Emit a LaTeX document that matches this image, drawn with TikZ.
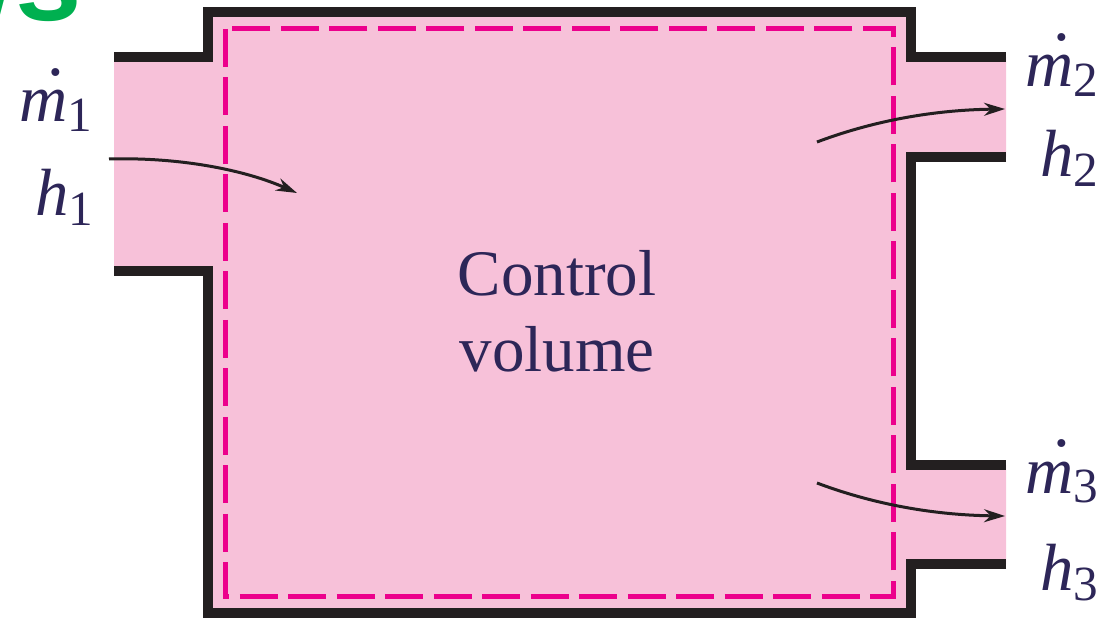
\documentclass[tikz,border=0pt]{standalone}
\usepackage{fontspec}
\setmainfont{Liberation Serif}
\newfontfamily\headfont{Liberation Sans}
\usetikzlibrary{arrows.meta}
\definecolor{cvpink}{RGB}{247,193,217}
\definecolor{cvmagenta}{RGB}{236,0,140}
\definecolor{cvblack}{RGB}{35,31,32}
\definecolor{cvtext}{RGB}{45,38,88}
\definecolor{cvgreen}{RGB}{0,176,80}
\newcommand{\flowsub}[1]{\raisebox{-0.2cm}{\fontsize{28}{28}\selectfont\upshape #1}}
\newcommand{\mdot}{\makebox[0pt][l]{\hspace{0.42em}\raisebox{0.7em}{\upshape .}}m}
\tikzset{
  >={Stealth[length=0.42cm, width=0.26cm]},
  cv fill/.style={fill=cvpink, draw=none},
  cv wall/.style={draw=cvblack, line width=0.2cm, line join=miter},
  cv dash/.style={draw=cvmagenta, line width=0.1cm, dash pattern=on 0.76cm off 0.21cm},
  cv flow/.style={draw=cvblack, ->, line width=0.06cm},
  cv lbl/.style={text=cvtext, inner sep=0pt, anchor=base west,
    font=\fontsize{38}{38}\selectfont\itshape},
  cv title/.style={text=cvtext, inner sep=0pt, align=center,
    font=\fontsize{37}{43}\selectfont},
}

\begin{document}
\begin{tikzpicture}[x=0.02cm, y=-0.02cm]
 \useasboundingbox (0,0) rectangle (1116,618);
 % heading fragment, cut by the page edge
 \node[text=cvgreen, inner sep=0pt, anchor=base east,
   font=\headfont\bfseries\fontsize{68}{68}\selectfont] (head) at (82,21) {ws};
 % control volume with inlet and two outlets
 \path[cv fill] (114,57) -- (208,57) -- (208,12) -- (911,12) -- (911,57) -- (1006,57)
   -- (1006,157) -- (911,157) -- (911,465) -- (1006,465) -- (1006,564) -- (911,564)
   -- (911,613) -- (208,613) -- (208,271) -- (114,271) -- cycle;
 \draw[cv wall] (114,57) -- (208,57) -- (208,12) -- (911,12) -- (911,57) -- (1006,57);
 \draw[cv wall] (1006,157) -- (911,157) -- (911,465) -- (1006,465);
 \draw[cv wall] (1006,564) -- (911,564) -- (911,613) -- (208,613) -- (208,271) -- (114,271);
 \draw[cv dash] (225,29) rectangle (893,596);
 \node[cv title] (cv) at (557,311) {Control\\volume};
 % flow labels
 \node[cv lbl] (m1) at (19,122) {\mdot\flowsub{1}};
 \node[cv lbl] (h1) at (35,216) {h\flowsub{1}};
 \node[cv lbl] (m2) at (1025,87) {\mdot\flowsub{2}};
 \node[cv lbl] (h2) at (1040,177) {h\flowsub{2}};
 \node[cv lbl] (m3) at (1025,493) {\mdot\flowsub{3}};
 \node[cv lbl] (h3) at (1040,590) {h\flowsub{3}};
 % flow arrows
 \coordinate (in1s) at (109,159);
 \coordinate (in1e) at (297,193);
 \coordinate (out2s) at (817,142);
 \coordinate (out2e) at (1005,109);
 \coordinate (out3s) at (817,483);
 \coordinate (out3e) at (1005,516);
 \draw[cv flow] (in1s) .. controls (180,157) and (245,170) .. (in1e);
 \draw[cv flow] (out2s) .. controls (870,122) and (930,110) .. (out2e);
 \draw[cv flow] (out3s) .. controls (870,503) and (930,515) .. (out3e);
\end{tikzpicture}
\end{document}
